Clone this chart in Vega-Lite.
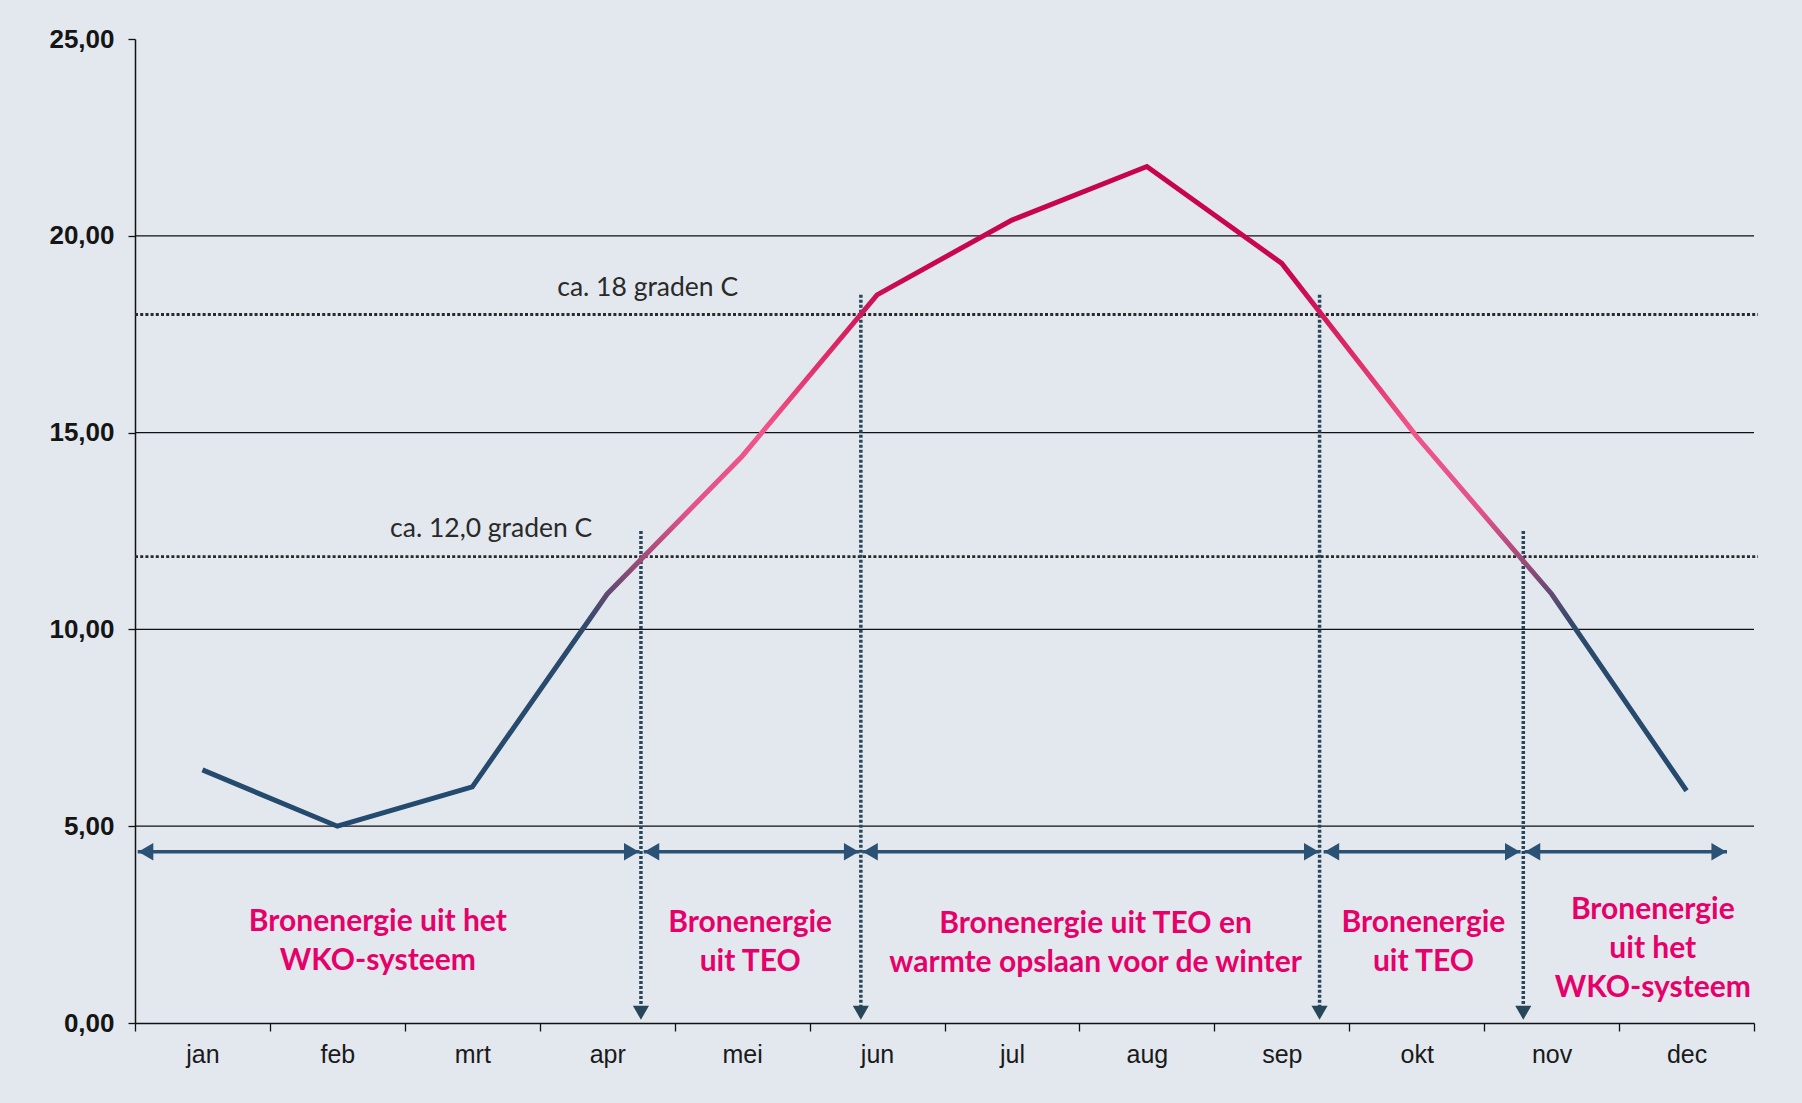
{
  "$schema": "https://vega.github.io/schema/vega-lite/v6.json",
  "width": 1619,
  "height": 984,
  "autosize": {"type": "none"},
  "padding": {"left": 135, "top": 39, "right": 48, "bottom": 80},
  "background": "#e2e8ee",
  "config": {
    "view": {"stroke": null},
    "axis": {"labelFont": "Liberation Sans", "titleFont": "Liberation Sans"}
  },
  "datasets": {
    "temps": [
      {"maand": 0.5, "temp": 6.43},
      {"maand": 1.5, "temp": 5.0},
      {"maand": 2.5, "temp": 6.0},
      {"maand": 3.5, "temp": 10.9},
      {"maand": 4.5, "temp": 14.4},
      {"maand": 5.5, "temp": 18.5},
      {"maand": 6.5, "temp": 20.4},
      {"maand": 7.5, "temp": 21.76},
      {"maand": 8.5, "temp": 19.3},
      {"maand": 9.5, "temp": 14.9},
      {"maand": 10.5, "temp": 10.9},
      {"maand": 11.5, "temp": 5.9}
    ],
    "grid": [{"y": 5}, {"y": 10}, {"y": 15}, {"y": 20}],
    "drempels": [{"y": 18, "x0": 0, "x1": 12.03}, {"y": 11.85, "x0": 0, "x1": 12.03}],
    "verticaal": [
      {"x": 3.75, "top": 12.5},
      {"x": 5.38, "top": 18.5},
      {"x": 8.78, "top": 18.5},
      {"x": 10.29, "top": 12.5}
    ],
    "pijlen": [
      {"x0": 0.02, "x1": 3.74, "y": 4.35},
      {"x0": 3.77, "x1": 5.37, "y": 4.35},
      {"x0": 5.39, "x1": 8.78, "y": 4.35},
      {"x0": 8.81, "x1": 10.27, "y": 4.35},
      {"x0": 10.30, "x1": 11.80, "y": 4.35}
    ],
    "links": [
      {"x": 0.08, "y": 4.35},
      {"x": 3.83, "y": 4.35},
      {"x": 5.45, "y": 4.35},
      {"x": 8.87, "y": 4.35},
      {"x": 10.36, "y": 4.35}
    ],
    "rechts": [
      {"x": 3.68, "y": 4.35},
      {"x": 5.31, "y": 4.35},
      {"x": 8.72, "y": 4.35},
      {"x": 10.21, "y": 4.35},
      {"x": 11.74, "y": 4.35}
    ],
    "omlaag": [
      {"x": 3.75, "y": 0.26},
      {"x": 5.38, "y": 0.26},
      {"x": 8.78, "y": 0.26},
      {"x": 10.29, "y": 0.26}
    ],
    "labels": [
      {"x": 3.80, "y": 18.67, "t": "ca. 18 graden C"},
      {"x": 2.64, "y": 12.56, "t": "ca. 12,0 graden C"}
    ],
    "fasen": [
      {"x": 1.80, "y": 2.57, "t": "Bronenergie uit het\nWKO-systeem"},
      {"x": 4.56, "y": 2.55, "t": "Bronenergie\nuit TEO"},
      {"x": 7.12, "y": 2.52, "t": "Bronenergie uit TEO en\nwarmte opslaan  voor de winter"},
      {"x": 9.55, "y": 2.55, "t": "Bronenergie\nuit TEO"},
      {"x": 11.25, "y": 2.88, "t": "Bronenergie\nuit het\nWKO-systeem"}
    ]
  },
  "layer": [
    {
      "data": {"name": "grid"},
      "mark": {"type": "rule", "color": "#111111", "strokeWidth": 1.3},
      "encoding": {
        "y": {
          "field": "y", "type": "quantitative",
          "scale": {"domain": [0, 25], "nice": false, "zero": true},
          "axis": {
            "values": [0, 5, 10, 15, 20, 25],
            "labelExpr": "replace(format(datum.value, '.2f'), '.', ',')",
            "title": null,
            "grid": false,
            "domainColor": "#111111",
            "domainWidth": 1.5,
            "tickColor": "#111111",
            "tickSize": 7,
            "tickWidth": 1.3,
            "labelFontSize": 26,
            "labelFontWeight": "bold",
            "labelColor": "#151515",
            "labelPadding": 14
          }
        },
        "x": {"datum": 0, "type": "quantitative"},
        "x2": {"datum": 12}
      }
    },
    {
      "data": {"name": "drempels"},
      "mark": {"type": "rule", "color": "#2a2a2a", "strokeWidth": 2.8, "strokeDash": [3, 2.2], "clip": false},
      "encoding": {
        "y": {"field": "y", "type": "quantitative"},
        "x": {
          "field": "x0", "type": "quantitative",
          "scale": {"domain": [0, 12], "nice": false, "zero": false},
          "axis": {
            "values": [0, 1, 2, 3, 4, 5, 6, 7, 8, 9, 10, 11, 12],
            "labelExpr": "['jan','feb','mrt','apr','mei','jun','jul','aug','sep','okt','nov','dec',''][datum.value]",
            "labelOffset": 67.45,
            "labelFlush": false,
            "labelBound": false,
            "labelOverlap": false,
            "title": null,
            "grid": false,
            "domainColor": "#111111",
            "domainWidth": 1.5,
            "tickColor": "#111111",
            "tickSize": 8,
            "tickWidth": 1.3,
            "labelFontSize": 25,
            "labelColor": "#1a1a1a",
            "labelPadding": 11
          }
        },
        "x2": {"field": "x1"}
      }
    },
    {
      "data": {"name": "verticaal"},
      "mark": {"type": "rule", "color": "#274659", "strokeWidth": 3.5, "strokeDash": [3, 2]},
      "encoding": {
        "x": {"field": "x", "type": "quantitative"},
        "y": {"field": "top", "type": "quantitative"},
        "y2": {"datum": 0.4}
      }
    },
    {
      "data": {"name": "omlaag"},
      "mark": {"type": "point", "shape": "triangle-down", "filled": true, "color": "#274659", "size": 260, "opacity": 1},
      "encoding": {
        "x": {"field": "x", "type": "quantitative"},
        "y": {"field": "y", "type": "quantitative"}
      }
    },
    {
      "data": {"name": "pijlen"},
      "mark": {"type": "rule", "color": "#2b5275", "strokeWidth": 3.4},
      "encoding": {
        "x": {"field": "x0", "type": "quantitative"},
        "x2": {"field": "x1"},
        "y": {"field": "y", "type": "quantitative"}
      }
    },
    {
      "data": {"name": "links"},
      "mark": {"type": "point", "shape": "triangle-left", "filled": true, "color": "#2b5275", "size": 300, "opacity": 1},
      "encoding": {
        "x": {"field": "x", "type": "quantitative"},
        "y": {"field": "y", "type": "quantitative"}
      }
    },
    {
      "data": {"name": "rechts"},
      "mark": {"type": "point", "shape": "triangle-right", "filled": true, "color": "#2b5275", "size": 300, "opacity": 1},
      "encoding": {
        "x": {"field": "x", "type": "quantitative"},
        "y": {"field": "y", "type": "quantitative"}
      }
    },
    {
      "data": {"name": "temps"},
      "mark": {
        "type": "line",
        "strokeWidth": 5,
        "strokeJoin": "miter",
        "stroke": {
          "gradient": "linear",
          "x1": 0, "y1": 0, "x2": 0, "y2": 1,
          "stops": [
            {"offset": 0, "color": "#c6044c"},
            {"offset": 0.17, "color": "#c8084f"},
            {"offset": 0.28, "color": "#dc2a66"},
            {"offset": 0.40, "color": "#f0558a"},
            {"offset": 0.52, "color": "#e2528a"},
            {"offset": 0.58, "color": "#b04c7c"},
            {"offset": 0.64, "color": "#6a4a72"},
            {"offset": 0.70, "color": "#2b4a6c"},
            {"offset": 1, "color": "#234a6e"}
          ]
        }
      },
      "encoding": {
        "x": {"field": "maand", "type": "quantitative"},
        "y": {"field": "temp", "type": "quantitative"}
      }
    },
    {
      "data": {"name": "labels"},
      "mark": {"type": "text", "font": "Lato", "fontSize": 26.5, "color": "#2a2a2a", "align": "center", "baseline": "middle"},
      "encoding": {
        "x": {"field": "x", "type": "quantitative"},
        "y": {"field": "y", "type": "quantitative"},
        "text": {"field": "t"}
      }
    },
    {
      "data": {"name": "fasen"},
      "mark": {"type": "text", "font": "Lato", "fontSize": 30, "fontWeight": "bold", "color": "#e6006a", "align": "center", "baseline": "middle", "lineBreak": "\n", "lineHeight": 39},
      "encoding": {
        "x": {"field": "x", "type": "quantitative"},
        "y": {"field": "y", "type": "quantitative"},
        "text": {"field": "t"}
      }
    }
  ]
}
